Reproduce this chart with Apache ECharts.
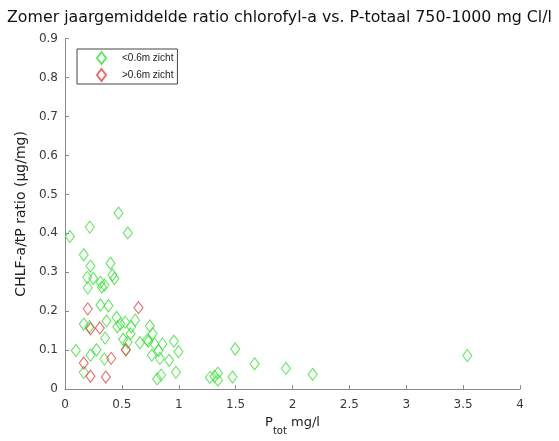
<!DOCTYPE html>
<html>
<head>
<meta charset="utf-8">
<script src="https://cdn.jsdelivr.net/npm/echarts@6/dist/echarts.min.js"></script>
<style>
html,body{margin:0;padding:0;background:#fff;}
#chart{width:559px;height:441px;}
</style>
</head>
<body>
<div id="chart"></div>
<script>
const titleText = 'Zomer jaargemiddelde ratio chlorofyl-a vs. P-totaal 750-1000 mg Cl/l';
const seriesNames = ['<0.6m zicht', '>0.6m zicht'];
const xTicks = [0, 0.5, 1, 1.5, 2, 2.5, 3, 3.5, 4];
const yTicks = [0, 0.1, 0.2, 0.3, 0.4, 0.5, 0.6, 0.7, 0.8, 0.9];

const greenX = [0.043,0.47,0.218,0.552,0.165,0.224,0.40,0.195,0.248,0.418,0.435,0.312,0.347,0.324,0.2,0.312,0.382,0.165,0.215,0.365,0.453,0.488,0.529,0.617,0.582,0.746,0.77,0.576,0.353,0.511,0.658,0.722,0.734,0.787,0.857,0.957,0.095,0.277,0.535,0.822,0.998,0.224,0.763,0.347,0.834,0.916,0.165,0.975,0.81,0.845,1.274,1.315,1.344,1.344,1.473,1.496,1.667,1.942,2.177,3.537,0.46,0.55];
const greenY = [0.392,0.452,0.416,0.401,0.345,0.316,0.323,0.287,0.284,0.293,0.284,0.274,0.267,0.262,0.26,0.216,0.214,0.167,0.16,0.175,0.184,0.167,0.172,0.177,0.16,0.162,0.142,0.142,0.131,0.128,0.119,0.126,0.123,0.116,0.116,0.123,0.099,0.101,0.101,0.099,0.096,0.087,0.087,0.077,0.079,0.074,0.043,0.043,0.026,0.036,0.030,0.033,0.041,0.023,0.031,0.103,0.065,0.053,0.038,0.086,0.16,0.12];
const redX = [0.2,0.646,0.224,0.306,0.535,0.406,0.165,0.224,0.359];
const redY = [0.206,0.209,0.155,0.157,0.101,0.079,0.067,0.033,0.031];

const greenData = greenX.map((x, i) => [x, greenY[i]]);
const redData = redX.map((x, i) => [x, redY[i]]);

const chart = echarts.init(document.getElementById('chart'), null, {renderer: 'canvas'});
const font = 'DejaVu Sans, sans-serif';
const legendFont = 'Liberation Sans, Arial, sans-serif';
const axisColor = '#8a8a8a';
const labelColor = '#3a3a3a';

chart.setOption({
  backgroundColor: '#fff',
  animation: false,
  title: {
    text: titleText,
    left: 'center',
    top: 5,
    textStyle: {fontFamily: font, fontSize: 15.8, fontWeight: 'normal', color: '#111'}
  },
  graphic: [{
    type: 'text', left: 265, top: -8,
    style: {text: 'tot', font: '10px ' + font, fill: '#333'}
  }],
  legend: {
    left: 77, top: 49,
    orient: 'vertical',
    borderColor: '#444', borderWidth: 1, borderRadius: 0,
    padding: [2, 4, 2, 19],
    itemGap: 3,
    itemWidth: 9, itemHeight: 12,
    icon: 'diamond',
    textStyle: {fontFamily: legendFont, fontSize: 10, color: '#222', padding: [0, 0, 0, 11], lineHeight: 14},
    data: seriesNames
  },
  grid: {left: 65, right: 39, top: 38.6, bottom: 48.7, containLabel: false},
  xAxis: {
    type: 'value', min: xTicks[0], max: xTicks[xTicks.length - 1], interval: 0.5,
    name: '{p|P}{s|tot}{p| mg/l}', nameLocation: 'middle', nameGap: 23,
    nameTextStyle: {rich: {
      p: {fontFamily: font, fontSize: 13, color: '#222', verticalAlign: 'bottom', lineHeight: 15},
      s: {fontFamily: font, fontSize: 10, color: '#222', verticalAlign: 'bottom', padding: [0, 0, -7, 0], lineHeight: 15}
    }},
    axisLine: {show: true, lineStyle: {color: axisColor, width: 1}},
    axisTick: {show: true, inside: true, length: 4, lineStyle: {color: axisColor}},
    axisLabel: {fontFamily: font, fontSize: 12, color: labelColor, margin: 10},
    splitLine: {show: false}
  },
  yAxis: {
    type: 'value', min: yTicks[0], max: yTicks[yTicks.length - 1], interval: 0.1,
    name: 'CHLF-a/tP ratio (µg/mg)', nameLocation: 'middle', nameGap: 30, nameRotate: 90,
    nameTextStyle: {fontFamily: font, fontSize: 14, color: '#222'},
    axisLine: {show: true, lineStyle: {color: axisColor, width: 1}},
    axisTick: {show: true, inside: true, length: 4, lineStyle: {color: axisColor}},
    axisLabel: {fontFamily: font, fontSize: 12, color: labelColor, margin: 7,
      formatter: v => (Math.round(v * 10) / 10).toString()},
    splitLine: {show: false}
  },
  series: [
    {
      name: seriesNames[0], type: 'scatter', data: greenData,
      symbol: 'diamond', symbolSize: [9, 12],
      itemStyle: {color: 'rgba(0,0,0,0)', borderColor: '#3fe03f', borderWidth: 1.1}
    },
    {
      name: seriesNames[1], type: 'scatter', data: redData,
      symbol: 'diamond', symbolSize: [9, 12],
      itemStyle: {color: 'rgba(0,0,0,0)', borderColor: '#e04848', borderWidth: 1.1}
    }
  ]
});
</script>
</body>
</html>
